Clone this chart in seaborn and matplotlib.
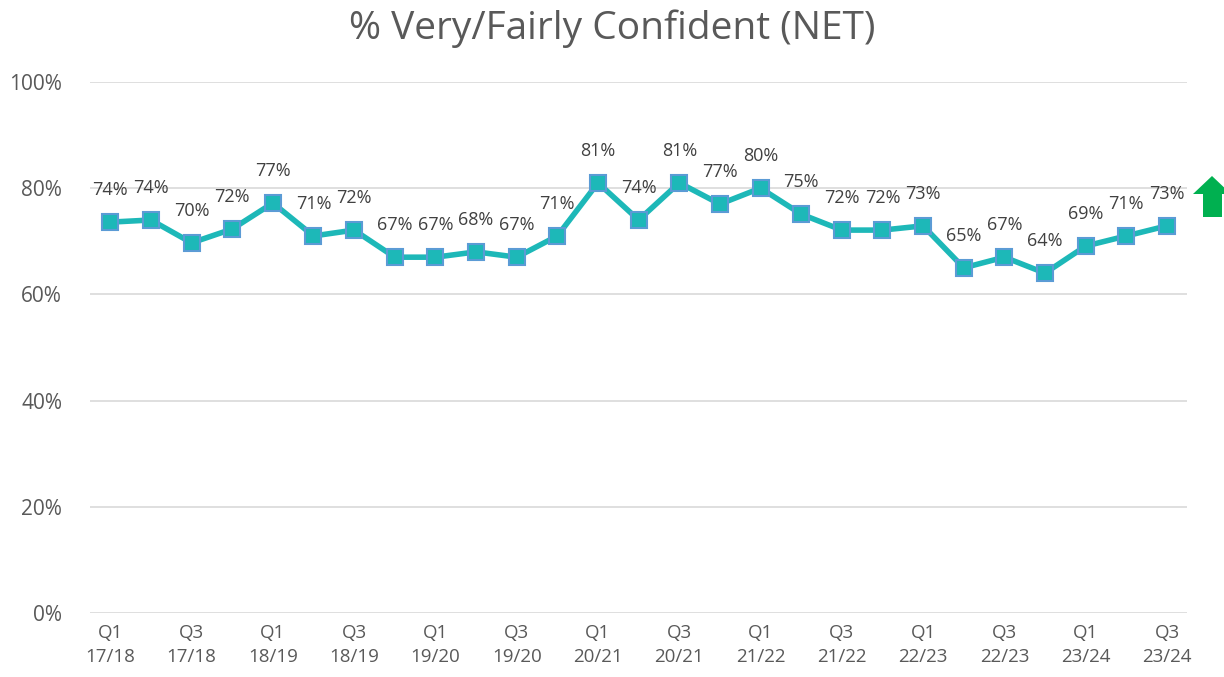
import numpy as np
import pandas as pd
import matplotlib.pyplot as plt
import matplotlib.patches as mpatches
import seaborn as sns

sns.set_theme(style="white")
plt.rcParams["font.family"] = ["Open Sans", "DejaVu Sans"]

# quarters from Q1 17/18 to Q3 23/24
years = ["17/18", "18/19", "19/20", "20/21", "21/22", "22/23", "23/24"]
quarters = [f"Q{q}\n{y}" for y in years for q in range(1, 5)][:27]
confident = [73.6, 74.0, 69.7, 72.3, 77.2, 71.0, 72.1, 67.0, 67.0, 68.0, 67.0, 71.0,
             81.0, 74.0, 81.0, 77.0, 80.0, 75.1, 72.1, 72.1, 72.9, 65.0, 67.0, 64.0,
             69.1, 71.0, 72.9]

df = pd.DataFrame({"pos": np.arange(len(quarters)), "quarter": quarters, "value": confident})

line_col = "#1DB8B8"
edge_col = "#5B9BD5"
grid_col = "#D9D9D9"
text_col = "#595959"

fig = plt.figure(figsize=(12.24, 6.77), dpi=100)
ax = fig.add_axes([0.0735, 0.0945, 0.8965, 0.7845])

sns.lineplot(data=df, x="pos", y="value", color=line_col, linewidth=4,
             marker="s", markersize=11, markerfacecolor=line_col,
             markeredgecolor=edge_col, markeredgewidth=1.5, ax=ax, zorder=3)

for p, v in zip(df["pos"], df["value"]):
    ax.annotate(f"{v:.0f}%", (p, v), xytext=(0, 23), textcoords="offset points",
                ha="center", va="center", fontsize=13, color="#404040")

ax.set_xlim(-0.5, len(quarters) - 0.5)
ax.set_ylim(0, 100)
ax.set_yticks(range(0, 101, 20))
ax.set_yticklabels([f"{t}%" for t in range(0, 101, 20)])
ax.set_xticks(df["pos"][::2])
ax.set_xticklabels(df["quarter"][::2], linespacing=1.4)
ax.tick_params(axis="x", labelsize=13.5, colors=text_col, length=0, pad=8)
ax.tick_params(axis="y", labelsize=15, colors=text_col, length=0, pad=20)
ax.grid(axis="y", color=grid_col, linewidth=1.2)
ax.set_axisbelow(True)
for s in ax.spines.values():
    s.set_visible(False)
ax.set_xlabel("")
ax.set_ylabel("")

fig.text(0.5, 0.957, "% Very/Fairly Confident (NET)", ha="center", va="center",
         fontsize=28, color=text_col)

# green up arrow on the right
arrow = mpatches.Polygon(
    [(1193, 677 - 194), (1212, 677 - 176), (1231, 677 - 194), (1222, 677 - 194),
     (1222, 677 - 217), (1203, 677 - 217), (1203, 677 - 194)],
    closed=True, transform=None, facecolor="#00B050", edgecolor="none")
fig.patches.append(arrow)

fig.savefig("out.png", dpi=100)
